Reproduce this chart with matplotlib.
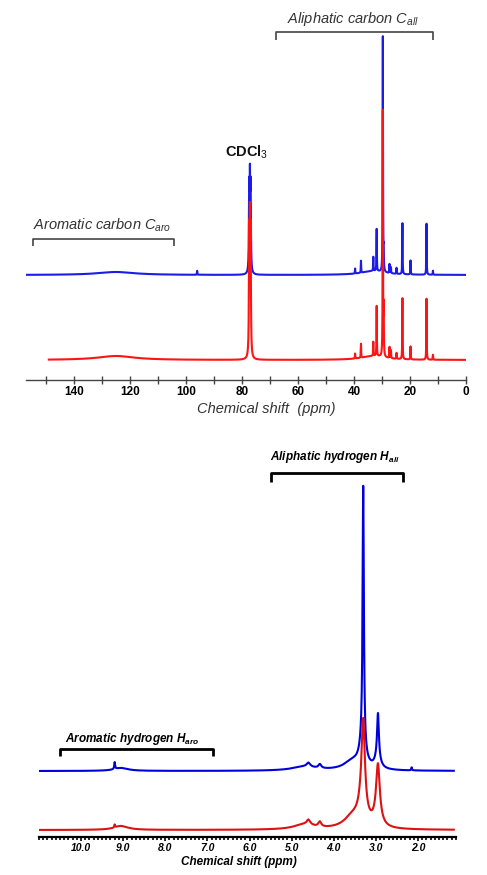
import numpy as np
import matplotlib
matplotlib.use("Agg")
import matplotlib.pyplot as plt
from matplotlib.ticker import MultipleLocator, FormatStrFormatter

plt.rcParams['font.family'] = ['Liberation Sans', 'DejaVu Sans']
plt.rcParams['mathtext.fontset'] = 'custom'
plt.rcParams['mathtext.rm'] = 'Liberation Sans'
plt.rcParams['mathtext.it'] = 'Liberation Sans:italic'
plt.rcParams['mathtext.bf'] = 'Liberation Sans:italic:bold'

# ---------------- 13C NMR data (peak list) ----------------
c_ppm = [77.42, 77.17, 76.92, 39.6, 37.5, 33.1, 31.9, 29.7, 29.4, 27.3, 26.8, 24.8, 22.7, 19.8, 14.1, 11.8, 96.0, 125.0, 33.0]
c_wid = [0.12, 0.12, 0.12, 0.07, 0.07, 0.07, 0.07, 0.07, 0.07, 0.07, 0.07, 0.07, 0.07, 0.07, 0.07, 0.07, 0.07, 8.0, 5.0]
c_blue = [78, 82, 78, 5, 12, 14, 42, 235, 18, 9, 6, 6, 51, 14, 51, 4, 4, 3, 4]
c_red = [112, 116, 112, 5, 14, 14, 50, 245, 45, 11, 8, 6, 61, 13, 61, 5, 0, 4, 4]
c_range_blue = [157.0, 0.0]
c_range_red = [149.0, 0.0]
c_ticks_major = [140, 120, 100, 80, 60, 40, 20, 0]

# ---------------- 1H NMR data (peak list) ----------------
h_ppm = [3.30, 3.32, 3.55, 2.95, 2.96, 4.60, 4.33, 4.70, 9.20, 9.05, 2.15]
h_blue = [259, 22, 9, 45, 10, 4, 4, 4, 7, 3, 3]
h_wid_blue = [0.018, 0.08, 0.25, 0.025, 0.08, 0.05, 0.04, 0.35, 0.012, 0.2, 0.01]
h_red = [80, 25, 12, 52, 10, 5, 5, 5, 3, 4, 0]
h_wid_red = [0.045, 0.1, 0.25, 0.05, 0.1, 0.05, 0.04, 0.3, 0.01, 0.2, 0.01]
h_range = [11.0, 1.15]
h_ticks_major = [10.0, 9.0, 8.0, 7.0, 6.0, 5.0, 4.0, 3.0, 2.0]


def spectrum(x, pos, hts, wid):
    y = np.zeros_like(x)
    for p, h, w in zip(pos, hts, wid):
        y += h * w ** 2 / ((x - p) ** 2 + w ** 2)
    return y


W, H = 487, 875
fig = plt.figure(figsize=(W / 100, H / 100), dpi=100)

# ======================= Top panel: 13C =======================
c_px_per_ppm = 2.8
c_zero_px = 466.0
c_left_ppm = 157.0
axL = (c_zero_px - c_left_ppm * c_px_per_ppm) / W
ax1 = fig.add_axes([axL, 1 - 380 / H, c_left_ppm * c_px_per_ppm / W, 375 / H])
ax1.set_xlim(c_left_ppm, 0)
ax1.set_ylim(0, 375)

blue_off, red_off = 105, 20
xb = np.arange(c_range_blue[1], c_range_blue[0], 0.01)
xr = np.arange(c_range_red[1], c_range_red[0], 0.01)
ax1.plot(xb, blue_off + spectrum(xb, c_ppm, c_blue, c_wid), color='#1c1ce6', lw=1.5)
ax1.plot(xr, red_off + spectrum(xr, c_ppm, c_red, c_wid), color='#ff1414', lw=1.5)

for s in ['top', 'left', 'right']:
    ax1.spines[s].set_visible(False)
ax1.spines['bottom'].set_color('#444444')
ax1.spines['bottom'].set_linewidth(1.0)
ax1.set_yticks([])
ax1.xaxis.set_minor_locator(MultipleLocator(10))
ax1.set_xticks(c_ticks_major)
ax1.tick_params(axis='x', which='both', direction='inout', length=6, width=1, color='#444444', pad=1)
for lbl in ax1.get_xticklabels():
    lbl.set_fontsize(8.5)
    lbl.set_fontweight('bold')


def bracket(ax, x0, x1, y, dy, color, lw):
    ax.plot([x0, x0, x1, x1], [y - dy, y, y, y - dy], color=color, lw=lw, solid_capstyle='butt', clip_on=False)


bracket(ax1, 67.9, 11.8, 348, 8, '#444444', 1.2)
ax1.text(40.4, 361, 'Aliphatic carbon $C_{all}$', fontsize=10.5, fontstyle='italic', ha='center', va='center', color='#333333')
bracket(ax1, 154.6, 104.3, 141, 7, '#444444', 1.2)
ax1.text(154.6, 155, 'Aromatic carbon $C_{aro}$', fontsize=10.5, fontstyle='italic', ha='left', va='center', color='#333333')
ax1.text(78.2, 228, 'CDCl$_{3}$', fontsize=10.5, fontweight='bold', ha='center', va='center', color='#111111')

fig.text(266 / W, 1 - 409 / H, 'Chemical shift  (ppm)', fontsize=10.5, fontstyle='italic', ha='center', va='center', color='#333333')

# ======================= Bottom panel: 1H =======================
h_px_per_ppm = 42.125
h_left_px = 418 - (11.0 - 2.0) * h_px_per_ppm
h_right_px = 418 + (2.0 - 1.1) * h_px_per_ppm
ax2 = fig.add_axes([h_left_px / W, 1 - 837 / H, (h_right_px - h_left_px) / W, 392 / H])
ax2.set_xlim(11.0, 1.1)
ax2.set_ylim(0, 392)

blue_off2, red_off2 = 66, 7
xh = np.arange(h_range[1], h_range[0], 0.002)
ax2.plot(xh, blue_off2 + spectrum(xh, h_ppm, h_blue, h_wid_blue), color='#0000dd', lw=1.5)
ax2.plot(xh, red_off2 + spectrum(xh, h_ppm, h_red, h_wid_red), color='#dd1111', lw=1.5)

for s in ['top', 'left', 'right']:
    ax2.spines[s].set_visible(False)
ax2.spines['bottom'].set_linewidth(1.6)
ax2.set_yticks([])
ax2.set_xticks(h_ticks_major)
ax2.xaxis.set_minor_locator(MultipleLocator(0.1))
ax2.xaxis.set_major_formatter(FormatStrFormatter('%.1f'))
ax2.tick_params(axis='x', which='major', direction='out', length=3, width=1.2, pad=1)
ax2.tick_params(axis='x', which='minor', direction='out', length=2.5, width=1.2)
for lbl in ax2.get_xticklabels():
    lbl.set_fontsize(7.5)
    lbl.set_fontweight('bold')
    lbl.set_fontstyle('italic')

bracket(ax2, 5.49, 2.36, 364, 9, 'black', 2.0)
ax2.text(3.97, 380, r'Aliphatic hydrogen $\mathbf{H_{ali}}$', fontsize=8.5, fontweight='bold', fontstyle='italic', ha='center', va='center', color='black')
bracket(ax2, 10.5, 6.87, 88, 7, 'black', 2.0)
ax2.text(8.79, 98, r'Aromatic hydrogen $\mathbf{H_{aro}}$', fontsize=8.5, fontweight='bold', fontstyle='italic', ha='center', va='center', color='black')

fig.text(239 / W, 1 - 862 / H, 'Chemical shift (ppm)', fontsize=8.5, fontweight='bold', fontstyle='italic', ha='center', va='center', color='black')

fig.savefig('out.png', dpi=100)
